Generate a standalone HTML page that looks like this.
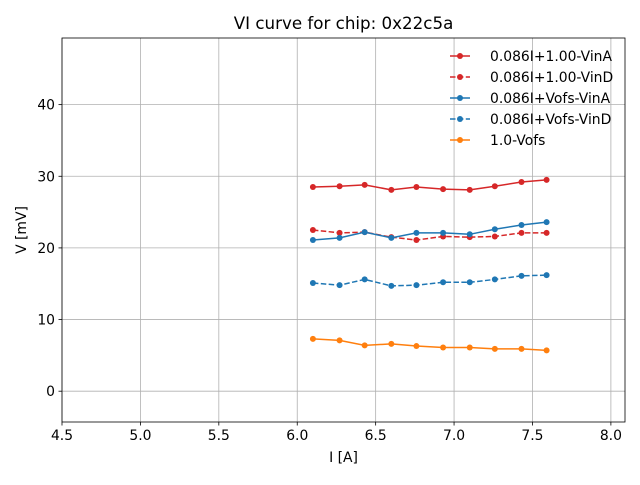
<!DOCTYPE html>
<html><head><meta charset="utf-8"><style>
body{margin:0;background:#fff;font-family:"Liberation Sans","DejaVu Sans",sans-serif}
svg text{font-family:"DejaVu Sans","Liberation Sans",sans-serif}
</style></head><body>
<svg id="chart" width="640" height="480" xmlns="http://www.w3.org/2000/svg"></svg>
<script>
const currents=[6.10,6.27,6.43,6.60,6.76,6.93,7.10,7.26,7.43,7.59];
const redSolid=[28.5,28.6,28.8,28.1,28.5,28.2,28.1,28.6,29.2,29.5];
const redDashed=[22.5,22.1,22.2,21.5,21.1,21.6,21.5,21.6,22.1,22.1];
const blueSolid=[21.1,21.4,22.2,21.4,22.1,22.1,21.9,22.6,23.2,23.6];
const blueDashed=[15.1,14.8,15.6,14.7,14.8,15.2,15.2,15.6,16.1,16.2];
const orangeVals=[7.3,7.1,6.4,6.6,6.3,6.1,6.1,5.9,5.9,5.7];
const xTicks=[4.5,5.0,5.5,6.0,6.5,7.0,7.5,8.0];
const yTicks=[0,10,20,30,40];
const seriesNames=["0.086I+1.00-VinA","0.086I+1.00-VinD","0.086I+Vofs-VinA","0.086I+Vofs-VinD","1.0-Vofs"];

const L=62,R=625,T=38,B=422,xmin=4.5,xmax=8.09,ymin=-4.3,ymax=49.3;
const X=v=>L+(v-xmin)/(xmax-xmin)*(R-L);
const Y=v=>B-(v-ymin)/(ymax-ymin)*(B-T);
const svg=document.getElementById('chart');
const NS='http://www.w3.org/2000/svg';
function mk(tag,attrs,parent){const e=document.createElementNS(NS,tag);for(const k in attrs)e.setAttribute(k,attrs[k]);(parent||svg).appendChild(e);return e;}

xTicks.forEach(t=>{
 const g=mk('line',{x1:X(t),x2:X(t),y1:T,y2:B,stroke:'#b0b0b0','stroke-width':0.8});
 
 mk('line',{x1:X(t),x2:X(t),y1:B,y2:B+3.5,stroke:'#000','stroke-width':0.8});
 const tx=mk('text',{x:X(t),y:B+18,'text-anchor':'middle','font-size':13.9});tx.textContent=t.toFixed(1);
 
});
yTicks.forEach(t=>{
 const g=mk('line',{x1:L,x2:R,y1:Y(t),y2:Y(t),stroke:'#b0b0b0','stroke-width':0.8});
 
 mk('line',{x1:L-3.5,x2:L,y1:Y(t),y2:Y(t),stroke:'#000','stroke-width':0.8});
 const tx=mk('text',{x:L-7,y:Y(t)+5,'text-anchor':'end','font-size':13.9});tx.textContent=t;
 
});

const series=[[redSolid,'#d62728',false],[redDashed,'#d62728',true],[blueSolid,'#1f77b4',false],[blueDashed,'#1f77b4',true],[orangeVals,'#ff7f0e',false]];
series.forEach(([vals,c,d],i)=>{
 const pts=currents.map((x,j)=>X(x)+','+Y(vals[j])).join(' ');
 const pl=mk('polyline',{points:pts,fill:'none',stroke:c,'stroke-width':1.5,'stroke-dasharray':d?'5.5,2.4':'none'});
 
 currents.forEach((x,j)=>{
  const p=mk('circle',{cx:X(x),cy:Y(vals[j]),r:3,fill:c});
  
 });
});
series.forEach(([vals,c,d],i)=>{
 const ly=56+i*21;
 const ll=mk('line',{x1:450,x2:470,y1:ly,y2:ly,stroke:c,'stroke-width':1.5,'stroke-dasharray':d?'5.5,2.4':'none'});
 
 mk('circle',{cx:460,cy:ly,r:3,fill:c});
 const lt=mk('text',{x:490,y:ly+5,'font-size':13.9});lt.textContent=seriesNames[i];
 
});
const frame=mk('rect',{x:L,y:T,width:R-L,height:B-T,fill:'none',stroke:'#000','stroke-width':0.8});

const title=mk('text',{x:(L+R)/2,y:29,'text-anchor':'middle','font-size':16.7});title.textContent='VI curve for chip: 0x22c5a';

const xl=mk('text',{x:(L+R)/2,y:462,'text-anchor':'middle','font-size':13.9});xl.textContent='I [A]';

const yl=mk('text',{x:26,y:(T+B)/2,'text-anchor':'middle','font-size':13.9,transform:`rotate(-90 26 ${(T+B)/2})`});yl.textContent='V [mV]';

</script>
</body></html>
